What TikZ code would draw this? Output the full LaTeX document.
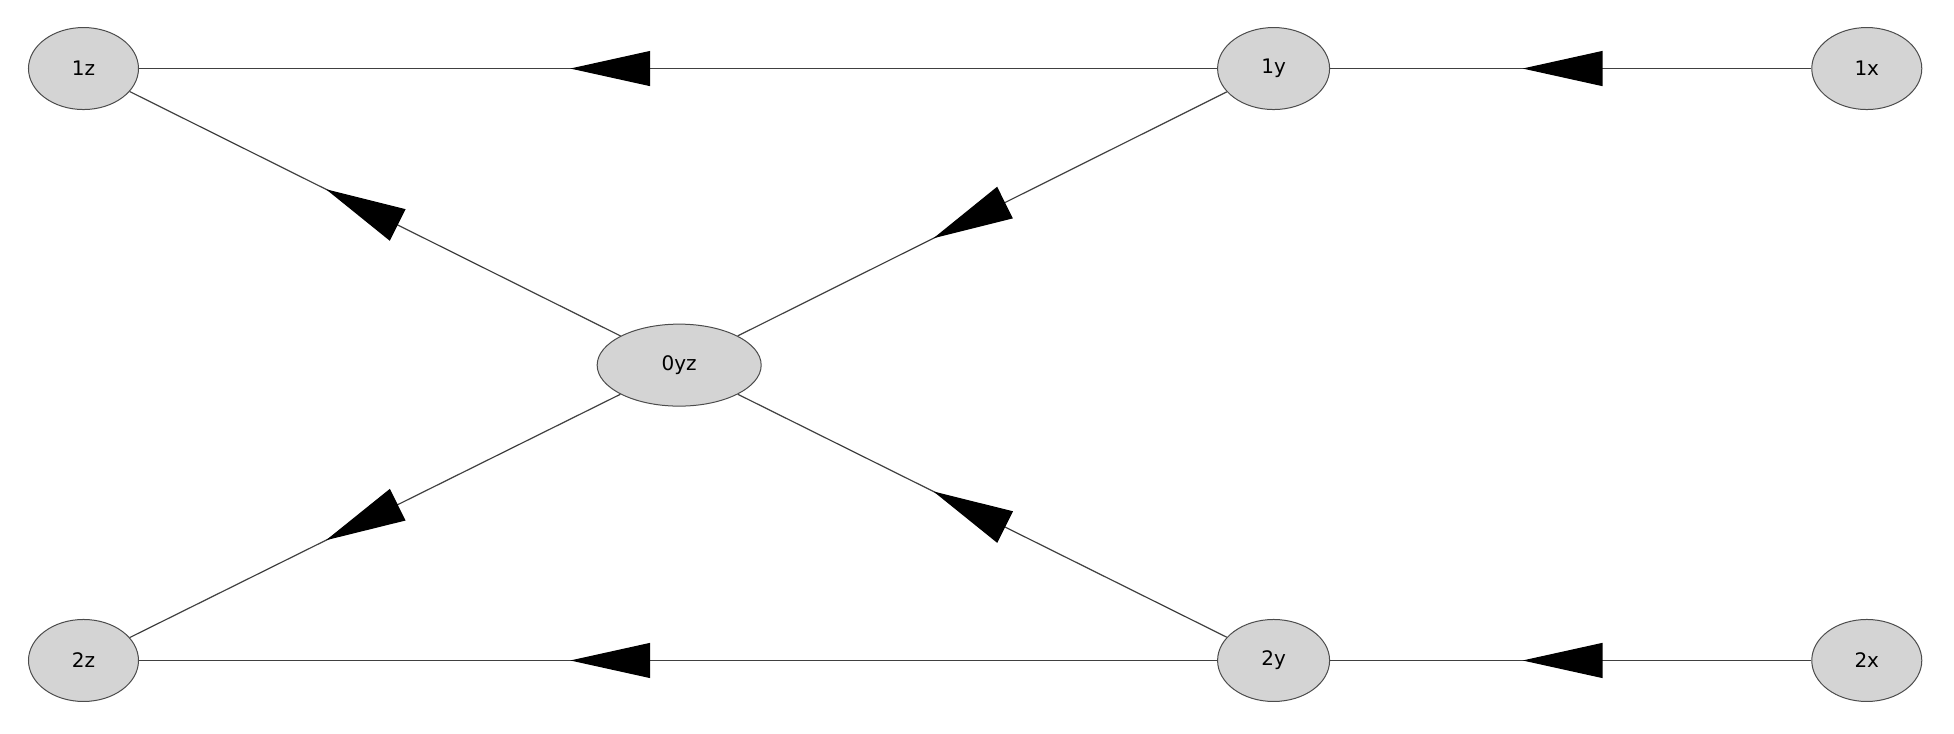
\documentclass[tikz,border=0pt]{standalone}
\usepackage{fontspec}
\setmainfont{DejaVu Sans}
\usetikzlibrary{shapes.geometric,arrows.meta,decorations.markings}
\begin{document}
\begin{tikzpicture}[x=1.246pt,y=-1.246pt,
  nd/.style={ellipse,draw=black!70,fill=black!17,line width=1pt,minimum height=82pt,inner sep=0pt,font=\fontsize{20}{20}\selectfont},
  ed/.style={draw=black!75,line width=1.2pt,postaction={decorate},
    decoration={markings,mark=at position 0.6 with {\arrow[black]{Triangle[length=80pt,width=35pt]}}}}]
\useasboundingbox (0,0) rectangle (1568,589);
\node[nd,minimum width=110pt] (1z) at (67,55) {1z};
\node[nd,minimum width=112pt] (1y) at (1022,55) {1y};
\node[nd,minimum width=110pt] (1x) at (1498,55) {1x};
\node[nd,minimum width=164pt] (0yz) at (545,293) {0yz};
\node[nd,minimum width=110pt] (2z) at (67,530) {2z};
\node[nd,minimum width=112pt] (2y) at (1022,530) {2y};
\node[nd,minimum width=110pt] (2x) at (1498,530) {2x};
\draw[ed] (1y) -- (1z);
\draw[ed] (1x) -- (1y);
\draw[ed] (2y) -- (2z);
\draw[ed] (2x) -- (2y);
\draw[ed] (0yz) -- (1z);
\draw[ed] (1y) -- (0yz);
\draw[ed] (0yz) -- (2z);
\draw[ed] (2y) -- (0yz);
\end{tikzpicture}
\end{document}
